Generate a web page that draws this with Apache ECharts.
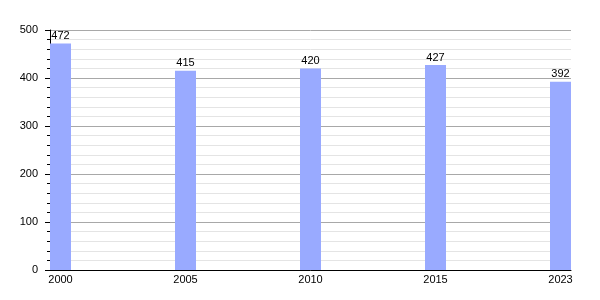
<!DOCTYPE html>
<html><head><meta charset="utf-8">
<script src="https://cdn.jsdelivr.net/npm/echarts@6/dist/echarts.min.js"></script>
<style>html,body{margin:0;padding:0;background:#fff}#c{width:600px;height:300px}</style>
</head><body><div id="c"></div>
<script>
const categories = ['2000', '2005', '2010', '2015', '2023'];
const values = [472, 415, 420, 427, 392];
const yTicks = [0, 100, 200, 300, 400, 500];

const idx = categories.map((c, i) => i);
const pad = 0.084;
const chart = echarts.init(document.getElementById('c'), null, {renderer: 'canvas'});
chart.setOption({
  animation: false,
  textStyle: {fontFamily: 'Liberation Sans, Arial, sans-serif'},
  grid: {left: 50, right: 29, top: 30, bottom: 30, containLabel: false},
  xAxis: {
    type: 'value', min: -pad, max: categories.length - 1 + pad,
    axisLine: {show: true, onZero: false, lineStyle: {color: '#000', width: 1}},
    axisTick: {show: false},
    splitLine: {show: false},
    axisLabel: {
      customValues: idx, color: '#000', fontSize: 11, margin: 4,
      formatter: v => categories[Math.round(v)]
    }
  },
  yAxis: {
    type: 'value', min: yTicks[0], max: yTicks[yTicks.length - 1], interval: 100,
    axisLine: {show: true, onZero: false, lineStyle: {color: '#000', width: 1}},
    axisTick: {show: true, length: 5, lineStyle: {color: '#000'}},
    minorTick: {show: true, splitNumber: 5, length: 3, lineStyle: {color: '#000'}},
    splitLine: {show: true, lineStyle: {color: '#a8a8a8', width: 1}},
    minorSplitLine: {show: true, lineStyle: {color: '#e4e4e4', width: 1}},
    axisLabel: {color: '#000', fontSize: 11, margin: 12}
  },
  series: [{
    type: 'bar', barWidth: 21,
    data: values.map((v, i) => [i, v]),
    itemStyle: {color: '#99aaff'},
    label: {show: true, position: 'top', color: '#000', fontSize: 11, distance: 2,
      formatter: p => p.value[1]}
  }]
});
</script></body></html>
